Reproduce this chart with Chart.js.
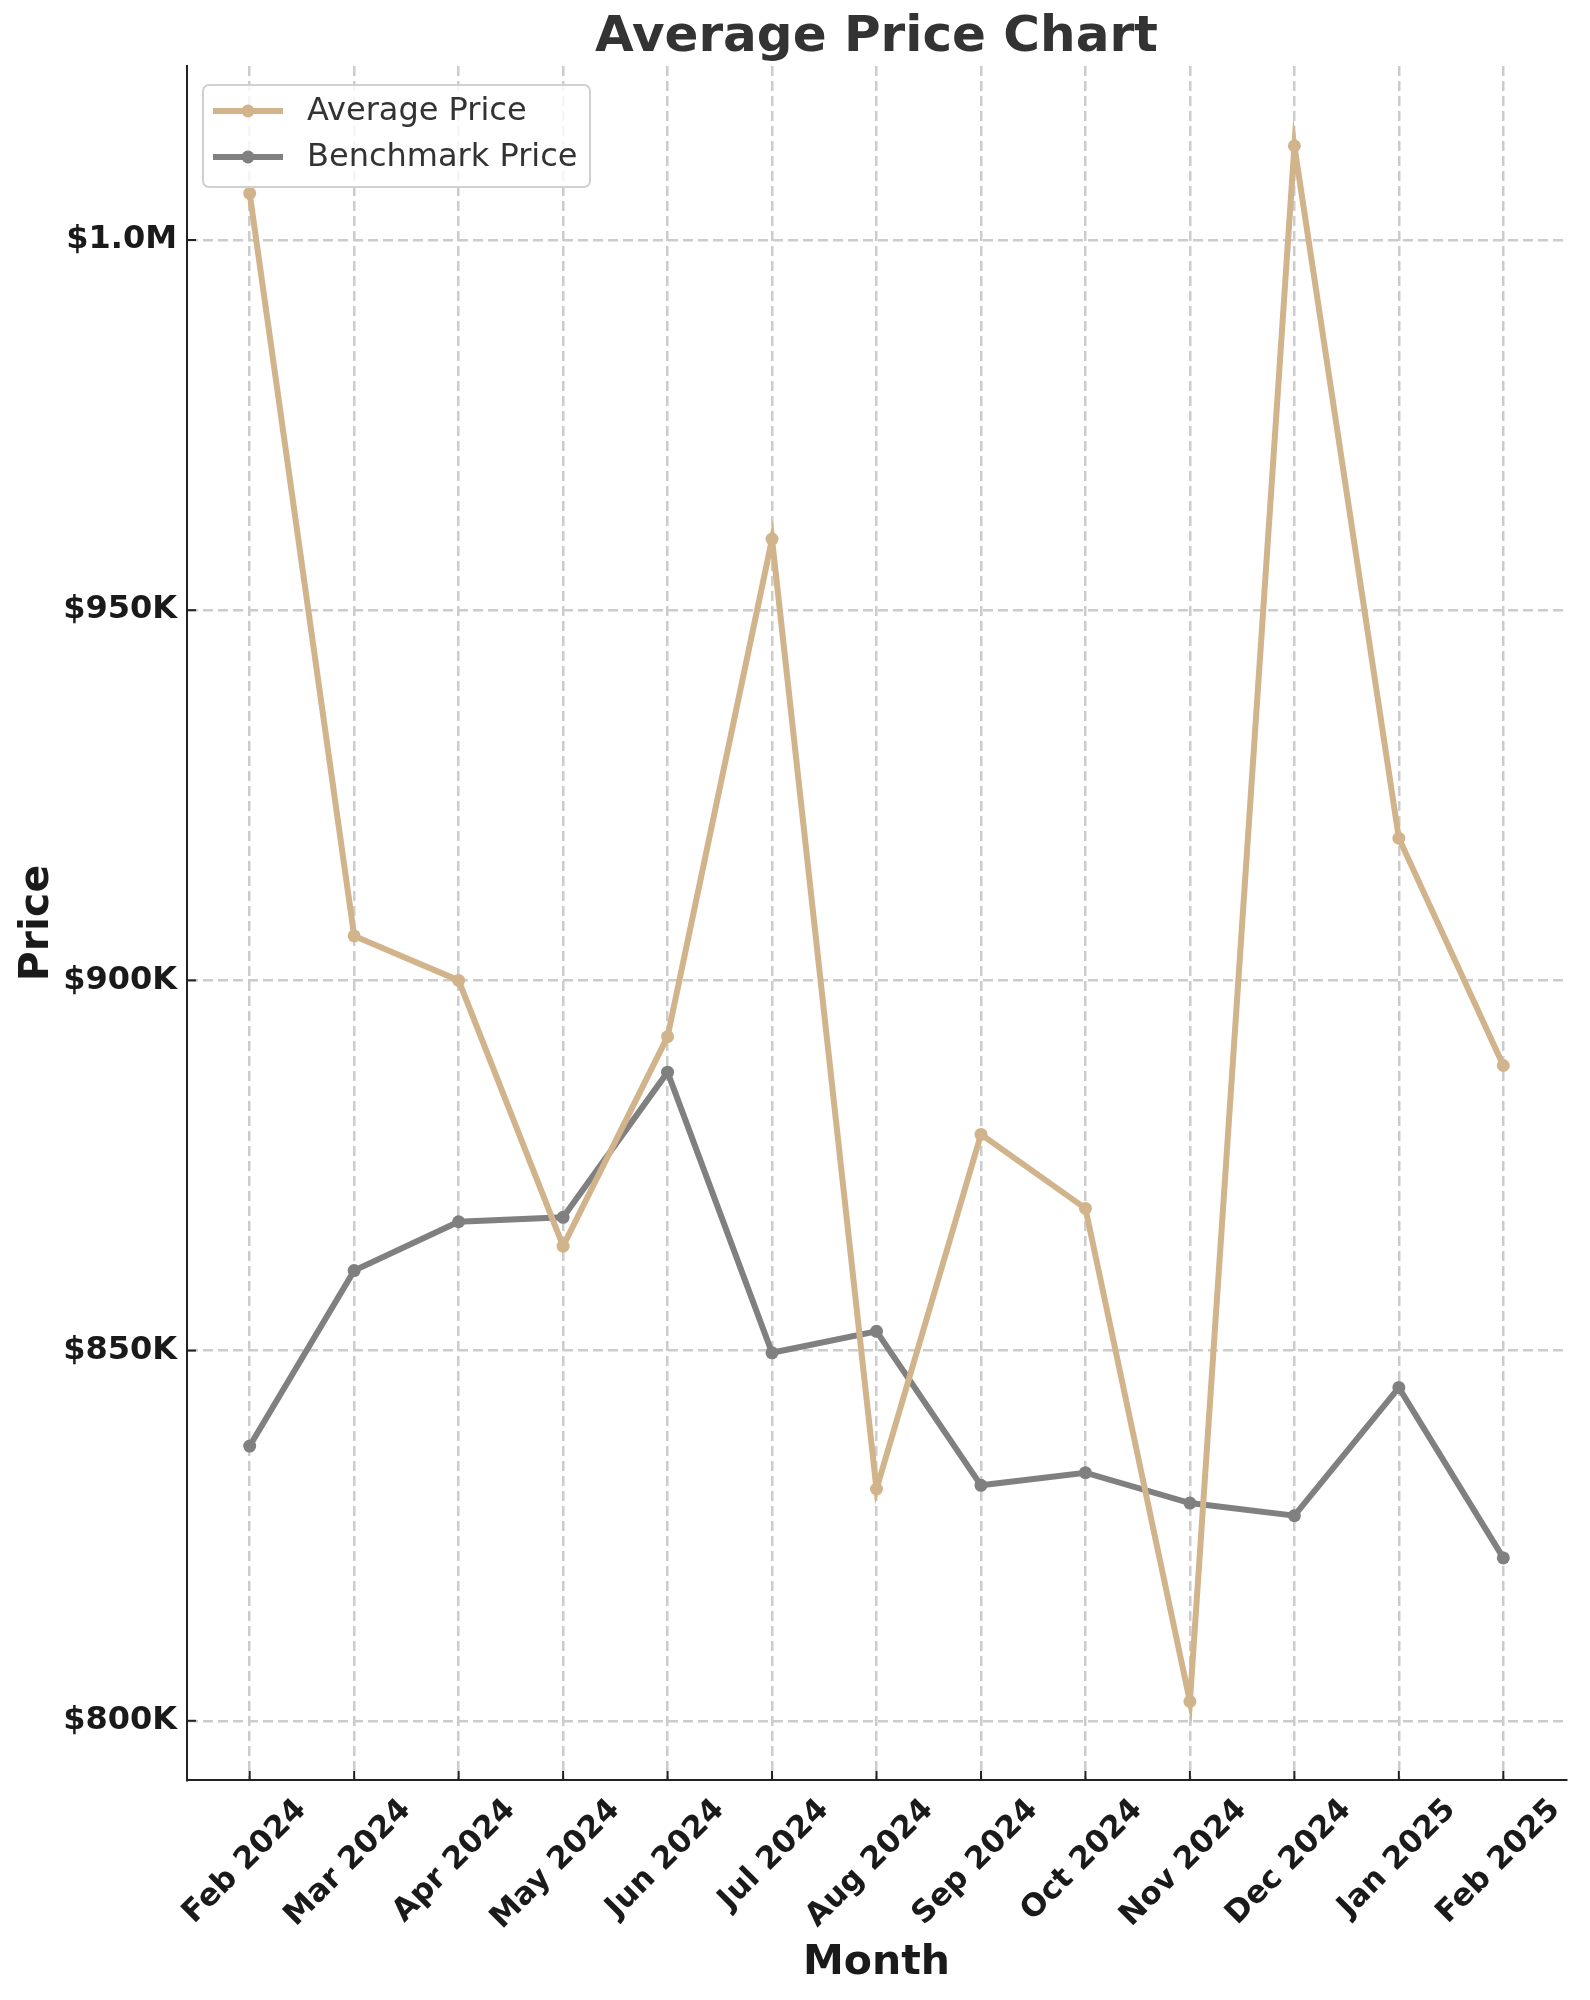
<!DOCTYPE html>
<html>
<head>
<meta charset="utf-8">
<script src="https://cdn.jsdelivr.net/npm/chart.js@4.4.1/dist/chart.umd.min.js"></script>
<style>
  body { margin: 0; background: #fff; }
  canvas { display: block; }
</style>
</head>
<body>
<canvas id="price-chart" width="1590" height="2000"></canvas>
<script>
// months on the x axis
const months = ['Feb 2024', 'Mar 2024', 'Apr 2024', 'May 2024', 'Jun 2024', 'Jul 2024', 'Aug 2024',
  'Sep 2024', 'Oct 2024', 'Nov 2024', 'Dec 2024', 'Jan 2025', 'Feb 2025'];

// in dollars
const averagePrice = [1006300, 906000, 900000, 864100, 892400, 959600, 831300,
  879200, 869200, 802600, 1012700, 919200, 888500];
const benchmarkPrice = [837100, 860800, 867400, 868000, 887600, 849700, 852600,
  831800, 833500, 829400, 827700, 845000, 822000];

const yTicks = [800000, 850000, 900000, 950000, 1000000];

const FONT = 'DejaVu Sans';
const avgColor = '#D2B48C';
const benchColor = '#808080';

function money(v) {
  if (v >= 1000000) return '$' + (v / 1000000).toFixed(1) + 'M';
  return '$' + Math.round(v / 1000) + 'K';
}

// title over the plot area, inward tick marks, matplotlib style legend box
const extras = {
  id: 'extras',
  afterDraw(chart) {
    const ctx = chart.ctx;
    const xs = chart.scales.x, ys = chart.scales.y;
    const area = chart.chartArea;
    ctx.save();

    ctx.fillStyle = '#333';
    ctx.font = 'bold 50px "' + FONT + '"';
    ctx.textAlign = 'center';
    ctx.textBaseline = 'middle';
    ctx.fillText('Average Price Chart', (area.left + area.right) / 2, 38);

    ctx.strokeStyle = '#222';
    ctx.lineWidth = 2;
    xs.ticks.forEach(t => {
      const x = xs.getPixelForValue(t.value);
      ctx.beginPath(); ctx.moveTo(x, area.bottom); ctx.lineTo(x, area.bottom - 9); ctx.stroke();
    });
    ys.ticks.forEach(t => {
      const y = ys.getPixelForValue(t.value);
      ctx.beginPath(); ctx.moveTo(area.left, y); ctx.lineTo(area.left + 9, y); ctx.stroke();
    });

    // legend
    const bx = 203, by = 85, bw = 387, bh = 102;
    ctx.fillStyle = 'rgba(255,255,255,0.8)';
    ctx.strokeStyle = '#d0d0d0';
    ctx.lineWidth = 2;
    ctx.beginPath();
    ctx.roundRect(bx, by, bw, bh, 6);
    ctx.fill(); ctx.stroke();
    const items = [['Average Price', avgColor, 111], ['Benchmark Price', benchColor, 157]];
    ctx.font = '32px "' + FONT + '"';
    ctx.textBaseline = 'middle';
    ctx.textAlign = 'left';
    items.forEach(([label, color, y]) => {
      ctx.strokeStyle = color;
      ctx.lineWidth = 6;
      ctx.beginPath(); ctx.moveTo(213, y); ctx.lineTo(283, y); ctx.stroke();
      ctx.fillStyle = color;
      ctx.beginPath(); ctx.arc(248, y, 6.5, 0, Math.PI * 2); ctx.fill();
      ctx.fillStyle = '#333';
      ctx.fillText(label, 307, y + 1);
    });
    ctx.restore();
  }
};

new Chart(document.getElementById('price-chart').getContext('2d'), {
  type: 'line',
  data: {
    datasets: [
      {
        label: 'Average Price',
        data: averagePrice.map((v, i) => ({ x: i, y: v })),
        borderColor: avgColor,
        backgroundColor: avgColor,
        borderWidth: 6,
        pointRadius: 6.5,
        pointBorderWidth: 0,
        tension: 0
      },
      {
        label: 'Benchmark Price',
        data: benchmarkPrice.map((v, i) => ({ x: i, y: v })),
        borderColor: benchColor,
        backgroundColor: benchColor,
        borderWidth: 6,
        pointRadius: 6.5,
        pointBorderWidth: 0,
        tension: 0
      }
    ]
  },
  options: {
    responsive: false,
    devicePixelRatio: 1,
    animation: false,
    layout: { padding: { top: 66, right: 24, bottom: 0, left: 0 } },
    scales: {
      x: {
        type: 'linear',
        min: -0.6,
        max: months.length - 1 + 0.6,
        afterBuildTicks: s => { s.ticks = months.map((m, i) => ({ value: i })); },
        afterFit: s => { s.height = 220; },
        ticks: {
          callback: v => months[v],
          minRotation: 45,
          maxRotation: 45,
          padding: 12,
          labelOffset: 52,
          color: '#1a1a1a',
          font: { family: FONT, size: 31, weight: 'bold' }
        },
        grid: { color: '#cccccc', lineWidth: 2.5, drawTicks: false },
        border: { color: '#222', width: 2, dash: [10, 5] },
        title: {
          display: true,
          text: 'Month',
          color: '#1a1a1a',
          font: { family: FONT, size: 41, weight: 'bold' },
          padding: { top: 0, bottom: 12 }
        }
      },
      y: {
        min: 792000,
        max: 1023500,
        afterBuildTicks: s => { s.ticks = yTicks.map(v => ({ value: v })); },
        afterFit: s => { s.width = 187; },
        ticks: {
          callback: v => money(v),
          padding: 10,
          color: '#1a1a1a',
          font: { family: FONT, size: 32, weight: 'bold' }
        },
        grid: { color: '#cccccc', lineWidth: 2.5, drawTicks: false },
        border: { color: '#222', width: 2, dash: [10, 5] },
        title: {
          display: true,
          text: 'Price',
          color: '#1a1a1a',
          font: { family: FONT, size: 41, weight: 'bold' },
          padding: { top: 13, bottom: 0 }
        }
      }
    },
    plugins: {
      legend: { display: false },
      tooltip: { enabled: false },
      title: { display: false }
    }
  },
  plugins: [extras]
});
</script>
</body>
</html>
